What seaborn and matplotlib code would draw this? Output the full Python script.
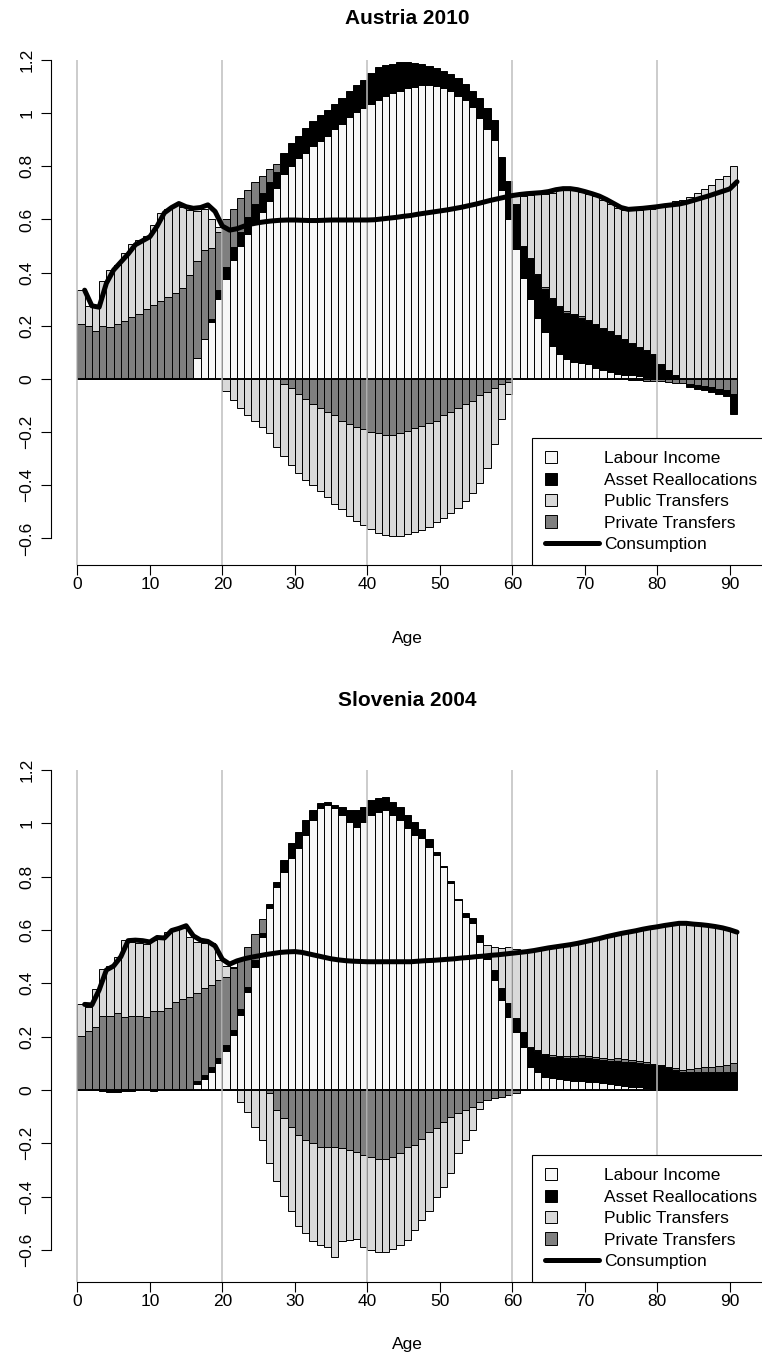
import numpy as np
import matplotlib
matplotlib.use("Agg")
import matplotlib.pyplot as plt
import seaborn as sns
from matplotlib.patches import Patch, Rectangle
from matplotlib.lines import Line2D
from matplotlib.legend_handler import HandlerPatch

# --- data (ages 0..90) ---
ages = np.arange(91)

at_labour = [0] * 16 + [
    0.078, 0.15, 0.215, 0.30, 0.375, 0.447, 0.50, 0.545, 0.59, 0.63,
    0.67, 0.72, 0.77, 0.80, 0.83, 0.85, 0.875, 0.895, 0.915, 0.94,
    0.96, 0.985, 1.005, 1.02, 1.035, 1.05, 1.065, 1.075, 1.085, 1.093,
    1.098, 1.105, 1.105, 1.102, 1.095, 1.085, 1.066, 1.05, 1.023, 0.982,
    0.941, 0.90, 0.71, 0.60, 0.49, 0.38, 0.30, 0.23, 0.177, 0.123,
    0.095, 0.075, 0.065, 0.06, 0.055, 0.04, 0.034, 0.027, 0.02, 0.016,
    0.013, 0.01, 0.007, 0.005, 0.004, 0.003, 0.002, 0.002] + [0.001] * 7
at_asset = [0] * 18 + [
    0.01, 0.034, 0.048, 0.051, 0.052, 0.065, 0.07, 0.07, 0.07, 0.06,
    0.08, 0.086, 0.084, 0.094, 0.096, 0.098, 0.097, 0.096, 0.097, 0.099,
    0.10, 0.105, 0.117, 0.123, 0.115, 0.111, 0.108, 0.10, 0.092, 0.079,
    0.071, 0.068, 0.065, 0.061, 0.066, 0.058, 0.062, 0.075, 0.079, 0.075,
    0.125, 0.143, 0.167, 0.12, 0.15, 0.16, 0.163, 0.177, 0.175, 0.175,
    0.175, 0.17, 0.163, 0.165, 0.156, 0.15, 0.144, 0.134, 0.123, 0.11,
    0.103, 0.09, 0.051, 0.031, 0.012, 0.003, -0.01, -0.012, -0.015, -0.018,
    -0.02, -0.025, -0.075]
at_private = [
    0.205, 0.198, 0.181, 0.198, 0.194, 0.207, 0.218, 0.232, 0.245, 0.263,
    0.277, 0.293, 0.307, 0.325, 0.341, 0.39, 0.365, 0.334, 0.269, 0.218,
    0.177, 0.143, 0.128, 0.10, 0.08, 0.065, 0.05, 0.03, -0.02, -0.035,
    -0.055, -0.075, -0.093, -0.109, -0.123, -0.136, -0.157, -0.17, -0.18, -0.19,
    -0.198, -0.205, -0.21, -0.21, -0.205, -0.195, -0.184, -0.177, -0.164, -0.157,
    -0.136, -0.123, -0.109, -0.095, -0.082, -0.061, -0.048, -0.034, -0.02, -0.01,
    0.0, 0.0, 0.005, 0.005, 0.005, 0.005, 0.005, 0.005, 0.005, 0.005,
    0.005, 0.003, 0.003, 0.003, 0.003, -0.002, -0.004, -0.005, -0.006, -0.007,
    -0.008, -0.011, -0.014, -0.017, -0.02, -0.024, -0.028, -0.032, -0.036, -0.04,
    -0.055]
at_public = [
    0.129, 0.075, 0.089, 0.170, 0.215, 0.223, 0.257, 0.275, 0.276, 0.276,
    0.303, 0.332, 0.334, 0.330, 0.307, 0.244, 0.188, 0.156, 0.106, 0.021,
    -0.045, -0.08, -0.11, -0.135, -0.16, -0.18, -0.205, -0.255, -0.27, -0.29,
    -0.30, -0.305, -0.307, -0.311, -0.322, -0.334, -0.333, -0.345, -0.355, -0.36,
    -0.367, -0.373, -0.377, -0.38, -0.385, -0.387, -0.391, -0.391, -0.392, -0.383,
    -0.389, -0.382, -0.375, -0.365, -0.348, -0.329, -0.287, -0.211, -0.13, -0.045,
    0.033, 0.19, 0.238, 0.301, 0.351, 0.395, 0.435, 0.455, 0.465, 0.47,
    0.473, 0.482, 0.482, 0.48, 0.477, 0.484, 0.498, 0.516, 0.528, 0.546,
    0.593, 0.623, 0.654, 0.67, 0.685, 0.70, 0.712, 0.73, 0.75, 0.764,
    0.80]
at_consumption = [
    0.334, 0.275, 0.27, 0.36, 0.41, 0.44, 0.47, 0.505, 0.52, 0.535,
    0.575, 0.625, 0.645, 0.66, 0.648, 0.642, 0.645, 0.655, 0.63, 0.575,
    0.56, 0.565, 0.575, 0.583, 0.588, 0.592, 0.595, 0.597, 0.598, 0.598,
    0.597, 0.596, 0.596, 0.597, 0.598, 0.598, 0.598, 0.598, 0.598, 0.598,
    0.599, 0.602, 0.605, 0.608, 0.612, 0.615, 0.62, 0.624, 0.628, 0.632,
    0.636, 0.641, 0.646, 0.652, 0.658, 0.665, 0.672, 0.678, 0.684, 0.69,
    0.694, 0.697, 0.699, 0.701, 0.705, 0.712, 0.716, 0.716, 0.712, 0.705,
    0.697, 0.688, 0.675, 0.66, 0.645, 0.638, 0.64, 0.642, 0.645, 0.648,
    0.652, 0.655, 0.658, 0.664, 0.672, 0.68, 0.688, 0.697, 0.706, 0.715,
    0.742]

si_labour = [0] * 16 + [
    0.0225, 0.04, 0.069, 0.10, 0.1475, 0.206, 0.281, 0.369, 0.4625, 0.575,
    0.681, 0.7625, 0.819, 0.869, 0.906, 0.956, 1.0125, 1.056, 1.069, 1.056,
    1.031, 1.006, 0.9875, 1.006, 1.031, 1.044, 1.05, 1.031, 1.0125, 0.981,
    0.956, 0.944, 0.9125, 0.881, 0.835, 0.7775, 0.7125, 0.65, 0.6275, 0.556,
    0.49, 0.4125, 0.3375, 0.275, 0.219, 0.16, 0.0875, 0.069, 0.05, 0.044,
    0.04, 0.037, 0.035, 0.033, 0.031, 0.029, 0.026, 0.023, 0.019, 0.015,
    0.012, 0.01, 0.007, 0.005] + [0.002] * 11
si_asset = [
    0, 0, 0, -0.005, -0.006, -0.006, -0.005, -0.002, 0, 0,
    -0.003, 0, 0, 0, 0, 0.005, 0.0125, 0.016, 0.0185, 0.019,
    0.0215, 0.019, 0.0215, 0.0185, 0.025, 0.0125, 0.0165, 0.0175, 0.0435, 0.056,
    0.063, 0.0565, 0.0375, 0.019, 0.01, 0.013, 0.031, 0.044, 0.0625, 0.0565,
    0.0565, 0.05, 0.0475, 0.05, 0.05, 0.05, 0.05, 0.035, 0.028, 0.01,
    0.005, 0.005, 0.005, 0.015, 0.016, 0.025, 0.02, 0.0375, 0.0435, 0.05,
    0.05, 0.059, 0.0725, 0.076, 0.08, 0.081, 0.082, 0.083, 0.085, 0.088,
    0.089, 0.088, 0.0865, 0.087, 0.088, 0.091, 0.092, 0.092, 0.0905, 0.089,
    0.088, 0.08, 0.073, 0.067] + [0.067] * 7
si_private = [
    0.2025, 0.222, 0.237, 0.277, 0.277, 0.287, 0.272, 0.277, 0.277, 0.272,
    0.2975, 0.2975, 0.306, 0.331, 0.34, 0.345, 0.33, 0.325, 0.3065, 0.2935,
    0.256, 0.231, 0.1875, 0.15, 0.0975, 0.0525, -0.0125, -0.075, -0.106, -0.1375,
    -0.169, -0.1875, -0.2, -0.2125, -0.215, -0.2125, -0.219, -0.225, -0.231, -0.244,
    -0.25, -0.26, -0.26, -0.25, -0.2375, -0.2125, -0.206, -0.185, -0.156, -0.144,
    -0.119, -0.10, -0.0875, -0.075, -0.0625, -0.044, -0.0375, -0.031, -0.025, -0.019,
    -0.01, 0.0, 0.002, 0.004, 0.005, 0.006, 0.007, 0.008, 0.009, 0.01,
    0.008, 0.008, 0.0065, 0.008, 0.012, 0.009, 0.0085, 0.006, 0.0065, 0.0035,
    0.004, 0.006, 0.006, 0.006, 0.008, 0.012, 0.016, 0.019, 0.021, 0.025,
    0.0335]
si_public = [
    0.1185, 0.09, 0.14, 0.175, 0.188, 0.21, 0.29, 0.279, 0.275, 0.275,
    0.265, 0.28, 0.288, 0.2715, 0.266, 0.225, 0.191, 0.169, 0.156, 0.075,
    0.04, 0.005, -0.044, -0.081, -0.1375, -0.1875, -0.2625, -0.265, -0.2915, -0.315,
    -0.341, -0.3475, -0.365, -0.3685, -0.3725, -0.415, -0.346, -0.3375, -0.329, -0.346,
    -0.35, -0.346, -0.346, -0.3475, -0.3435, -0.35, -0.319, -0.3025, -0.2965, -0.256,
    -0.2435, -0.2125, -0.1475, -0.1125, -0.0875, -0.0285, 0.034, 0.0875, 0.15, 0.21,
    0.26, 0.306, 0.365, 0.381, 0.40, 0.407, 0.412, 0.417, 0.42, 0.422,
    0.43, 0.439, 0.452, 0.46, 0.465, 0.475, 0.4825, 0.492, 0.501, 0.5125,
    0.52, 0.53, 0.541, 0.55, 0.547, 0.54, 0.533, 0.527, 0.52, 0.511,
    0.4945]
si_consumption = [
    0.321, 0.319, 0.375, 0.45, 0.465, 0.50, 0.56, 0.562, 0.56, 0.555,
    0.572, 0.57, 0.598, 0.606, 0.616, 0.578, 0.562, 0.557, 0.54, 0.49,
    0.472, 0.484, 0.492, 0.498, 0.503, 0.508, 0.512, 0.516, 0.518, 0.519,
    0.516, 0.51, 0.504, 0.498, 0.492, 0.488, 0.485, 0.483, 0.482, 0.481,
    0.481, 0.481, 0.481, 0.481, 0.481, 0.481, 0.483, 0.485, 0.486, 0.488,
    0.49, 0.492, 0.495, 0.497, 0.5, 0.502, 0.505, 0.507, 0.51, 0.513,
    0.516, 0.519, 0.523, 0.528, 0.533, 0.537, 0.541, 0.545, 0.55, 0.556,
    0.562, 0.568, 0.575, 0.581, 0.587, 0.592, 0.597, 0.603, 0.608, 0.612,
    0.617, 0.621, 0.625, 0.625, 0.622, 0.62, 0.617, 0.613, 0.608, 0.601,
    0.592]

legend_labels = ["Labour Income", "Asset Reallocations", "Public Transfers",
                 "Private Transfers", "Consumption"]
yticks = [-0.6, -0.4, -0.2, 0, 0.2, 0.4, 0.6, 0.8, 1, 1.2]

# --- style ---
sns.set_style("white")
plt.rcParams['font.family'] = ['Liberation Sans', 'DejaVu Sans']
plt.rcParams['text.color'] = 'black'
plt.rcParams['xtick.color'] = 'black'
plt.rcParams['ytick.color'] = 'black'
plt.rcParams['axes.labelcolor'] = 'black'

colors = {'labour': '#f7f7f7', 'asset': 'black',
          'public': '#d9d9d9', 'private': '#7f7f7f'}


def square(legend, orig_handle, xdescent, ydescent, width, height, fontsize):
    # small filled box at the left of the handle slot, like R's legend
    return Rectangle((-xdescent, -ydescent), height, height)


def draw_panel(ax, labour, asset, private, public, cons, ylow):
    parts = {'labour': np.array(labour, float), 'asset': np.array(asset, float),
             'private': np.array(private, float), 'public': np.array(public, float)}

    # positive parts stacked upwards
    bottom = np.zeros(len(ages))
    for name in ['labour', 'asset', 'private', 'public']:
        v = np.clip(parts[name], 0, None)
        m = v > 0
        ax.bar(ages[m], v[m], bottom=bottom[m], width=1, align='edge',
               color=colors[name], edgecolor='black', linewidth=0.7, zorder=1)
        bottom += v

    # negative parts stacked downwards
    bottom = np.zeros(len(ages))
    for name in ['private', 'asset', 'public']:
        v = np.clip(parts[name], None, 0)
        m = v < 0
        ax.bar(ages[m], v[m], bottom=bottom[m], width=1, align='edge',
               color=colors[name], edgecolor='black', linewidth=0.7, zorder=1)
        bottom += v

    ax.hlines(0, 0, 91, color='black', lw=1.4, zorder=2)
    for g in [0, 20, 40, 60, 80]:
        ax.axvline(g, color='#bebebe', lw=1.1, zorder=2.5)

    sns.lineplot(x=ages + 1, y=cons, ax=ax, color='black', lw=3.6,
                 solid_capstyle='round', zorder=4)

    ax.set_xlim(-3.64, 94.64)
    ax.set_ylim(ylow, 1.2)
    ax.set_xticks(range(0, 91, 10))
    ax.set_yticks(yticks)
    ax.set_yticklabels([f"{t:g}".replace('-', '\u2212') for t in yticks])
    ax.set_xlabel('')
    ax.set_ylabel('')
    for s in ['top', 'right']:
        ax.spines[s].set_visible(False)
    ax.spines['left'].set_bounds(-0.6, 1.2)
    ax.spines['bottom'].set_bounds(0, 90)
    for s in ['left', 'bottom']:
        ax.spines[s].set_color('black')
        ax.spines[s].set_linewidth(0.8)
    ax.tick_params(axis='both', direction='out', length=7, width=0.8,
                   color='black', labelcolor='black', labelsize=12.5,
                   left=True, bottom=True)
    ax.tick_params(axis='x', pad=1.5)
    ax.tick_params(axis='y', labelrotation=90, pad=5)
    for lbl in ax.get_yticklabels():
        lbl.set_va('center')

    handles = [Patch(facecolor=colors['labour'], edgecolor='black', lw=0.7),
               Patch(facecolor=colors['asset'], edgecolor='black', lw=0.7),
               Patch(facecolor=colors['public'], edgecolor='black', lw=0.7),
               Patch(facecolor=colors['private'], edgecolor='black', lw=0.7),
               Line2D([0], [0], color='black', lw=3.6, solid_capstyle='round')]
    # nudged right so the box starts where R put it; the long label runs off the edge
    leg = ax.legend(handles, legend_labels, loc='lower right',
                    bbox_to_anchor=(1 + 7 / 712, 0), borderaxespad=0, frameon=True,
                    fancybox=False, edgecolor='black', framealpha=1,
                    fontsize=12.5, handlelength=3.1, handletextpad=0.3,
                    borderpad=0.75, labelspacing=0.36,
                    handler_map={Patch: HandlerPatch(patch_func=square)})
    leg.get_frame().set_linewidth(0.8)
    leg.set_zorder(5)


W, H = 762, 1364
fig = plt.figure(figsize=(W / 100, H / 100), dpi=100)

ax1 = fig.add_axes([51 / W, 1 - 565 / H, 712.4 / W, 505 / H])
draw_panel(ax1, at_labour, at_asset, at_private, at_public, at_consumption, -0.70)

ax2 = fig.add_axes([51 / W, 1 - 1282 / H, 712.4 / W, 512 / H])
draw_panel(ax2, si_labour, si_asset, si_private, si_public, si_consumption, -0.72)

cx = 407 / W
fig.text(cx, 1 - 18 / H, "Austria 2010", ha='center', va='center',
         fontsize=15, fontweight='bold')
fig.text(cx, 1 - 639 / H, "Age", ha='center', va='center', fontsize=12.5)
fig.text(cx, 1 - 700 / H, "Slovenia 2004", ha='center', va='center',
         fontsize=15, fontweight='bold')
fig.text(cx, 1 - 1345 / H, "Age", ha='center', va='center', fontsize=12.5)

fig.savefig("out.png", dpi=100)
